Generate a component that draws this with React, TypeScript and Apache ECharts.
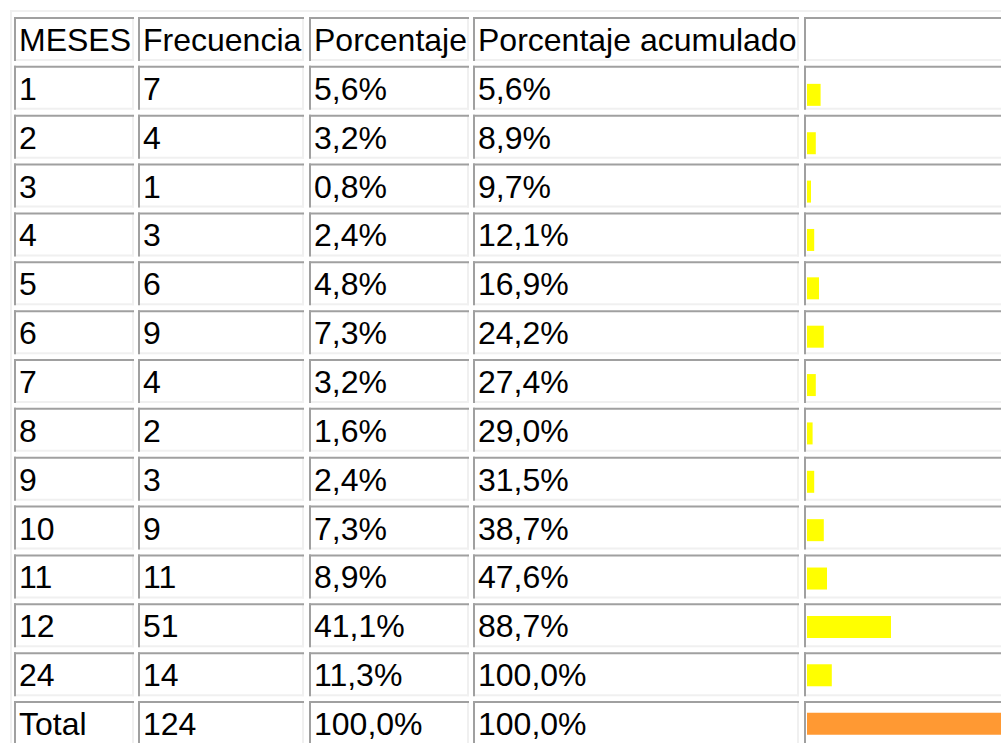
import React, { useEffect, useRef } from "react";
import * as echarts from "echarts";

const headers = ["MESES", "Frecuencia", "Porcentaje", "Porcentaje acumulado", ""];
const meses = ["1", "2", "3", "4", "5", "6", "7", "8", "9", "10", "11", "12", "24", "Total"];
const frecuencia = [7, 4, 1, 3, 6, 9, 4, 2, 3, 9, 11, 51, 14, 124];
const porcentaje = [5.6, 3.2, 0.8, 2.4, 4.8, 7.3, 3.2, 1.6, 2.4, 7.3, 8.9, 41.1, 11.3, 100.0];
const acumulado = [5.6, 8.9, 9.7, 12.1, 16.9, 24.2, 27.4, 29.0, 31.5, 38.7, 47.6, 88.7, 100.0, 100.0];

const fmt = (v: number) => v.toFixed(1).replace(".", ",") + "%";

const COLS = [
  { x: 14, w: 120 },
  { x: 138, w: 166 },
  { x: 309, w: 160 },
  { x: 473, w: 326 },
  { x: 804, w: 320 },
];
const ROW0 = 17;
const PITCH = 48.857;
const CELL_H = 44;
const DARK = "#a0a0a0";
const LIGHT = "#f0f0f0";
const FONT = '32px "Liberation Sans", Arial, sans-serif';
const GRID_LEFT = 807;
const GRID_W = 1001 - GRID_LEFT;
const AXIS_MIN = -1.5;
const PX_PER_UNIT = 1.6;
const AXIS_MAX = AXIS_MIN + GRID_W / PX_PER_UNIT;

export default function App() {
  const ref = useRef<HTMLDivElement>(null);
  useEffect(() => {
    if (!ref.current) return;
    const chart = echarts.init(ref.current, null, { renderer: "svg" });
    const graphics: any[] = [];
    graphics.push({ type: "rect", shape: { x: 10, y: 10, width: 1000, height: 2 }, style: { fill: LIGHT }, silent: true });
    graphics.push({ type: "rect", shape: { x: 10, y: 10, width: 2, height: 740 }, style: { fill: LIGHT }, silent: true });

    const rows: string[][] = [headers];
    meses.forEach((m, i) => {
      rows.push([m, String(frecuencia[i]), fmt(porcentaje[i]), fmt(acumulado[i]), ""]);
    });

    rows.forEach((row, r) => {
      const top = ROW0 + r * PITCH;
      COLS.forEach((c, ci) => {
        graphics.push({ type: "rect", shape: { x: c.x, y: top + CELL_H - 2, width: c.w, height: 2 }, style: { fill: LIGHT }, silent: true });
        graphics.push({ type: "rect", shape: { x: c.x + c.w - 2, y: top, width: 2, height: CELL_H }, style: { fill: LIGHT }, silent: true });
        graphics.push({ type: "rect", shape: { x: c.x, y: top, width: c.w, height: 2 }, style: { fill: DARK }, silent: true });
        graphics.push({ type: "rect", shape: { x: c.x, y: top, width: 2, height: CELL_H }, style: { fill: DARK }, silent: true });
        if (row[ci]) {
          graphics.push({
            type: "text",
            x: c.x + 5,
            y: top + CELL_H / 2 + 1,
            style: { text: row[ci], font: FONT, fill: "#000", textVerticalAlign: "middle", textAlign: "left" },
            silent: true,
          });
        }
      });
    });

    const gridTop = ROW0 + PITCH;
    chart.setOption({
      animation: false,
      backgroundColor: "#ffffff",
      grid: {
        left: GRID_LEFT,
        right: 0,
        top: gridTop,
        height: meses.length * PITCH,
        containLabel: false,
      },
      xAxis: { type: "value", min: AXIS_MIN, max: AXIS_MAX, show: false },
      yAxis: { type: "category", data: meses, inverse: true, show: false },
      series: [
        {
          type: "custom",
          clip: false,
          data: frecuencia.map((v, i) => [v, i]),
          renderItem: (params: any, api: any) => {
            const idx = api.value(1);
            const end = api.coord([api.value(0), idx]);
            const start = api.coord([AXIS_MIN, idx]);
            const band = api.size([0, 1])[1];
            const y = end[1] - band / 2 + 18;
            const isTotal = idx === meses.length - 1;
            return {
              type: "rect",
              shape: { x: start[0], y, width: end[0] - start[0], height: 22 },
              style: { fill: isTotal ? "#ff9933" : "#ffff00" },
            };
          },
        },
      ],
      graphic: graphics,
    });
    return () => chart.dispose();
  }, []);
  return <div ref={ref} style={{ position: "absolute", left: 0, top: 0, width: 1001, height: 743 }} />;
}
